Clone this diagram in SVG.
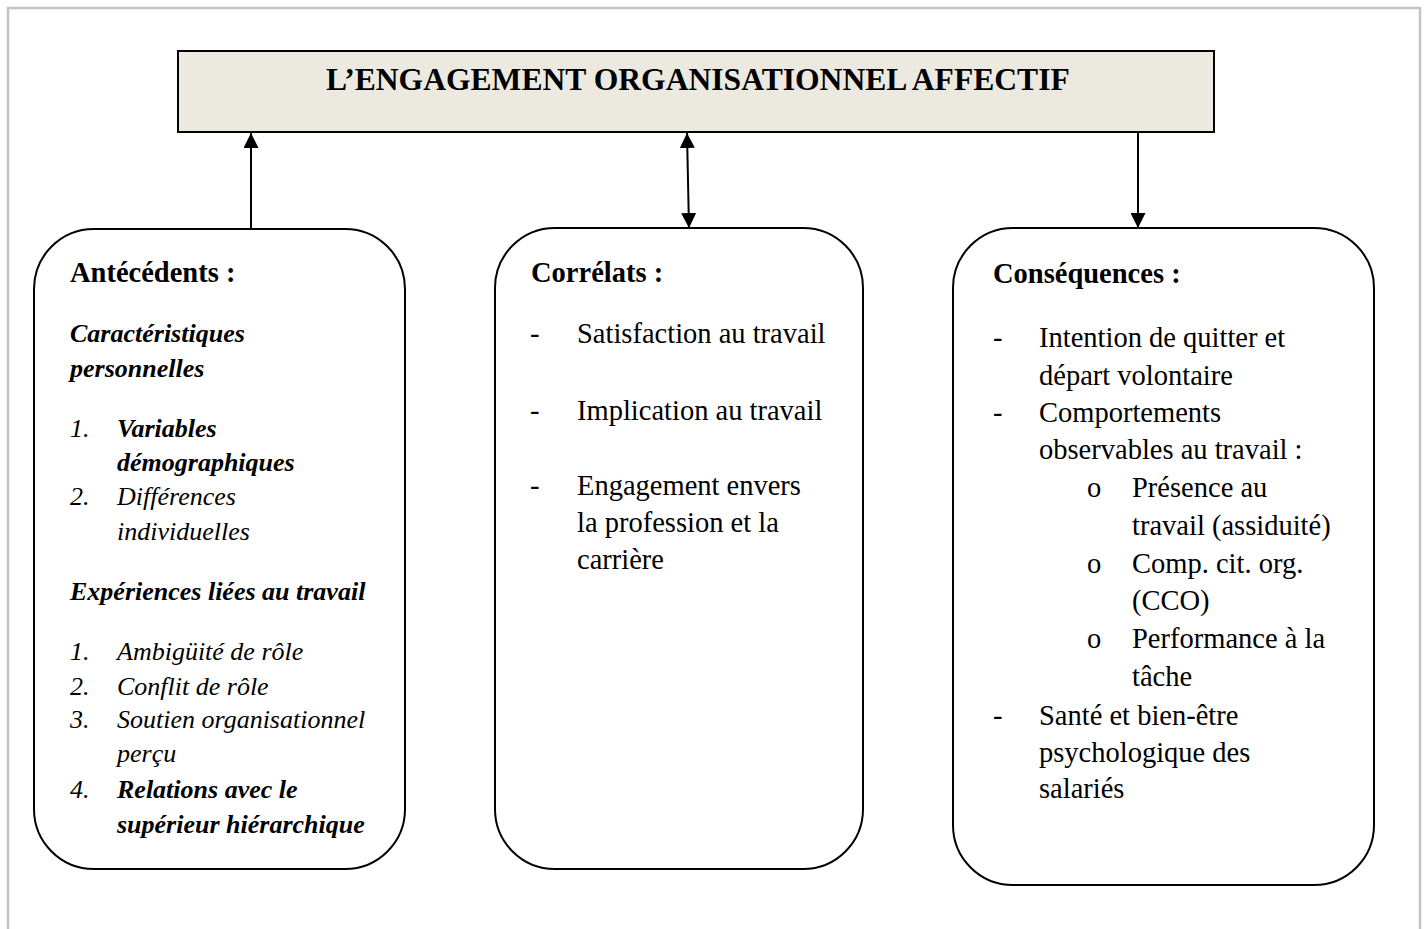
<svg xmlns="http://www.w3.org/2000/svg" width="1426" height="929" viewBox="0 0 1426 929">
<style>
.t{font-family:"Liberation Serif","Times New Roman",serif;fill:#000}
.h{font-size:28.5px;font-weight:bold}
.b{font-size:28.5px}
.l{font-size:26px;font-style:italic}
.bi{font-weight:bold}
.box{fill:#fff;stroke:#000;stroke-width:2}
.con{stroke:#000;stroke-width:2;fill:none}
</style>
<defs>
<marker id="ah" viewBox="0 0 10 10" refX="10" refY="5" markerWidth="15" markerHeight="15" markerUnits="userSpaceOnUse" orient="auto-start-reverse">
<path d="M0,0 L10,5 L0,10 Z" fill="#000"/>
</marker>
</defs>
<rect x="0" y="0" width="1426" height="929" fill="#fff"/>
<rect x="8" y="8" width="1412" height="940" fill="none" stroke="#c4c4c4" stroke-width="2.5"/>

<g id="title">
<rect x="178" y="51" width="1036" height="81" fill="#ECEAE0" stroke="#000" stroke-width="2"/>
<text class="t" x="326" y="90" font-size="31.6" font-weight="bold">L’ENGAGEMENT ORGANISATIONNEL AFFECTIF</text>
</g>

<g id="connectors">
<line class="con" x1="251" y1="228" x2="251" y2="133" marker-end="url(#ah)"/>
<line class="con" x1="687" y1="133" x2="689" y2="228" marker-start="url(#ah)" marker-end="url(#ah)"/>
<line class="con" x1="1138" y1="132" x2="1138" y2="228" marker-end="url(#ah)"/>
</g>

<g id="antecedents">
<rect class="box" x="34" y="229" width="371" height="640" rx="60" ry="60"/>
<text class="t h" x="70" y="282">Antécédents :</text>
<text class="t l bi" x="70" y="342">Caractéristiques</text>
<text class="t l bi" x="70" y="377">personnelles</text>
<text class="t l" x="70" y="437">1.</text>
<text class="t l bi" x="117" y="437">Variables</text>
<text class="t l bi" x="117" y="471">démographiques</text>
<text class="t l" x="70" y="505">2.</text>
<text class="t l" x="117" y="505">Différences</text>
<text class="t l" x="117" y="540">individuelles</text>
<text class="t l bi" x="70" y="600">Expériences liées au travail</text>
<text class="t l" x="70" y="660">1.</text>
<text class="t l" x="117" y="660">Ambigüité de rôle</text>
<text class="t l" x="70" y="695">2.</text>
<text class="t l" x="117" y="695">Conflit de rôle</text>
<text class="t l" x="70" y="728">3.</text>
<text class="t l" x="117" y="728">Soutien organisationnel</text>
<text class="t l" x="117" y="762">perçu</text>
<text class="t l" x="70" y="798">4.</text>
<text class="t l bi" x="117" y="798">Relations avec le</text>
<text class="t l bi" x="117" y="833">supérieur hiérarchique</text>
</g>

<g id="correlats">
<rect class="box" x="495" y="228" width="368" height="641" rx="60" ry="60"/>
<text class="t h" x="531" y="282">Corrélats :</text>
<text class="t b" x="530" y="343">-</text>
<text class="t b" x="577" y="343">Satisfaction au travail</text>
<text class="t b" x="530" y="420">-</text>
<text class="t b" x="577" y="420">Implication au travail</text>
<text class="t b" x="530" y="495">-</text>
<text class="t b" x="577" y="495">Engagement envers</text>
<text class="t b" x="577" y="532">la profession et la</text>
<text class="t b" x="577" y="569">carrière</text>
</g>

<g id="consequences">
<rect class="box" x="953" y="228" width="421" height="657" rx="60" ry="60"/>
<text class="t h" x="993" y="283">Conséquences :</text>
<text class="t b" x="993" y="347">-</text>
<text class="t b" x="1039" y="347">Intention de quitter et</text>
<text class="t b" x="1039" y="385">départ volontaire</text>
<text class="t b" x="993" y="422">-</text>
<text class="t b" x="1039" y="422">Comportements</text>
<text class="t b" x="1039" y="459">observables au travail :</text>
<text class="t b" x="1087" y="497">o</text>
<text class="t b" x="1132" y="497">Présence au</text>
<text class="t b" x="1132" y="535">travail (assiduité)</text>
<text class="t b" x="1087" y="573">o</text>
<text class="t b" x="1132" y="573">Comp. cit. org.</text>
<text class="t b" x="1132" y="610">(CCO)</text>
<text class="t b" x="1087" y="648">o</text>
<text class="t b" x="1132" y="648">Performance à la</text>
<text class="t b" x="1132" y="686">tâche</text>
<text class="t b" x="993" y="725">-</text>
<text class="t b" x="1039" y="725">Santé et bien-être</text>
<text class="t b" x="1039" y="762">psychologique des</text>
<text class="t b" x="1039" y="798">salariés</text>
</g>
</svg>
